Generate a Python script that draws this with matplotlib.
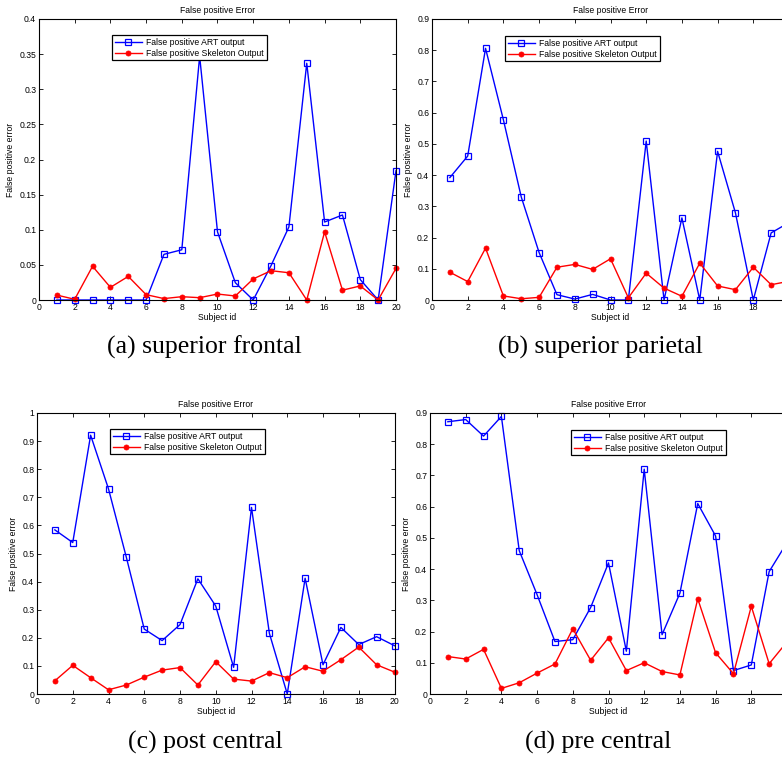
import matplotlib
matplotlib.use("Agg")
import matplotlib.pyplot as plt
import numpy as np

subjects = list(range(1, 21))

art_a = [0, 0, 0, 0, 0, 0, 0.065, 0.0715, 0.347, 0.097, 0.0246, 0, 0.049, 0.104, 0.337, 0.111, 0.121, 0.029, 0, 0.184]
skel_a = [0.007, 0.001, 0.048, 0.018, 0.0336, 0.0076, 0.002, 0.0047, 0.0033, 0.0085, 0.0057, 0.030, 0.0417, 0.0388, 0, 0.097, 0.014, 0.020, 0, 0.045]

art_b = [0.392, 0.461, 0.806, 0.577, 0.330, 0.152, 0.017, 0.003, 0.018, 0, 0, 0.509, 0, 0.263, 0, 0.476, 0.279, 0, 0.215, 0.248]
skel_b = [0.089, 0.059, 0.166, 0.013, 0.004, 0.0085, 0.105, 0.114, 0.098, 0.132, 0.007, 0.086, 0.038, 0.012, 0.118, 0.045, 0.033, 0.105, 0.049, 0.06]

art_c = [0.584, 0.539, 0.921, 0.730, 0.486, 0.231, 0.190, 0.247, 0.410, 0.313, 0.095, 0.664, 0.216, 0.0, 0.412, 0.104, 0.237, 0.176, 0.204, 0.172]
skel_c = [0.047, 0.102, 0.058, 0.015, 0.032, 0.060, 0.085, 0.094, 0.032, 0.115, 0.053, 0.046, 0.076, 0.058, 0.097, 0.081, 0.122, 0.167, 0.104, 0.078]

art_d = [0.872, 0.879, 0.826, 0.889, 0.459, 0.318, 0.168, 0.174, 0.277, 0.420, 0.137, 0.720, 0.190, 0.323, 0.610, 0.506, 0.075, 0.093, 0.392, 0.485]
skel_d = [0.120, 0.112, 0.143, 0.018, 0.036, 0.067, 0.096, 0.209, 0.108, 0.180, 0.075, 0.100, 0.072, 0.061, 0.305, 0.132, 0.065, 0.281, 0.097, 0.167]

captions = ["(a) superior frontal", "(b) superior parietal", "(c) post central", "(d) pre central"]
ylims = [0.4, 0.9, 1.0, 0.9]
ysteps = [0.05, 0.1, 0.1, 0.1]
x_ticks = list(range(0, 21, 2))

W, H = 782, 760
fig = plt.figure(figsize=(W / 100, H / 100), dpi=100)
plt.rcParams['font.family'] = ['Liberation Sans', 'DejaVu Sans']

# pixel boxes: left, top, width, height
boxes = [(39, 19, 357, 281), (432, 19, 357, 281), (37, 413, 357.5, 281), (430, 413, 357, 281)]
legend_pos = [(112, 35), (505, 36), (110, 429), (571, 430)]
caption_pos = [(204, 347), (600, 347), (205, 742), (598, 742)]
data = [(art_a, skel_a), (art_b, skel_b), (art_c, skel_c), (art_d, skel_d)]
cut_right = [False, True, False, True]

for i in range(4):
    l, t, w, h = boxes[i]
    ax = fig.add_axes([l / W, (H - t - h) / H, w / W, h / H])
    art, skel = data[i]
    ax.plot(subjects, art, '-s', color='#0000ff', lw=1.0, ms=4, mfc='none', mew=0.9,
            label='False positive ART output', clip_on=False)
    ax.plot(subjects, skel, '-o', color='#ff0000', lw=1.0, ms=3.6, mew=0.6,
            label='False positive Skeleton Output', clip_on=False)
    ax.set_xlim(0, 20)
    ax.set_ylim(0, ylims[i])
    ax.set_xticks(x_ticks)
    ax.set_xticklabels([('' if (cut_right[i] and v == 20) else str(v)) for v in x_ticks])
    yt = np.round(np.arange(0, ylims[i] + 1e-9, ysteps[i]), 3)
    ax.set_yticks(yt)
    ax.set_yticklabels(['0' if v == 0 else ('1' if v == 1 else ('%g' % v)) for v in yt])
    ax.tick_params(direction='in', top=True, right=True, labelsize=6.2, length=3, width=0.6, pad=2)
    for s in ax.spines.values():
        s.set_linewidth(0.8)
    ax.set_title('False positive Error', fontsize=6.2, pad=4)
    ax.set_xlabel('Subject id', fontsize=6.2, labelpad=1)
    ax.set_ylabel('False positive error', fontsize=6.2, labelpad=3)
    lx, ly = legend_pos[i]
    leg = ax.legend(loc='upper left', bbox_to_anchor=(lx / W, 1 - ly / H), bbox_transform=fig.transFigure,
                    fontsize=6.2, fancybox=False, edgecolor='black', framealpha=1, borderaxespad=0,
                    handlelength=3.2, handletextpad=0.5, borderpad=0.3, labelspacing=0.25)
    leg.get_frame().set_linewidth(0.9)
    cx, cy = caption_pos[i]
    fig.text(cx / W, 1 - cy / H, captions[i], ha='center', va='center', fontsize=18.5,
             family=['Liberation Serif', 'DejaVu Serif'])

fig.savefig('out.png', dpi=100)
